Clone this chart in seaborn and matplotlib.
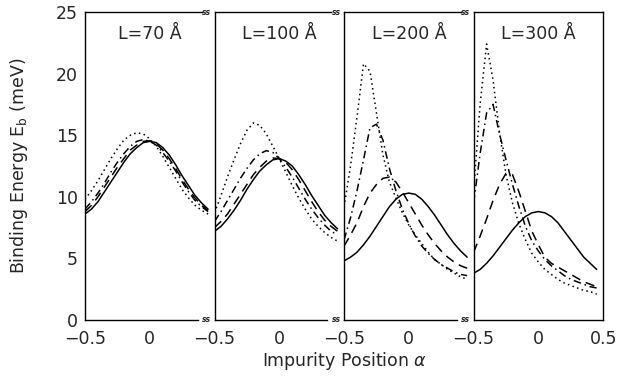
import numpy as np
import pandas as pd
import matplotlib
matplotlib.use('Agg')
import matplotlib.pyplot as plt
import seaborn as sns

# =========================
# DATA
# =========================
ALPHA = [-0.5, -0.45, -0.4, -0.35, -0.3, -0.25, -0.2, -0.15, -0.1, -0.05,
         0.0, 0.05, 0.1, 0.15, 0.2, 0.25, 0.3, 0.35, 0.4, 0.45]

PANELS = ['L=70 Å', 'L=100 Å', 'L=200 Å', 'L=300 Å']
CURVES = ['solid', 'dashed', 'dashdot', 'dotted']

# L = 70 A
l70_solid   = [8.6, 9.0, 9.6, 10.4, 11.2, 12.0, 12.8, 13.5, 14.0, 14.4, 14.5, 14.4, 14.0, 13.4, 12.6, 11.7, 10.9, 10.1, 9.5, 9.0]
l70_dashed  = [8.8, 9.3, 10.0, 10.8, 11.6, 12.4, 13.1, 13.8, 14.2, 14.5, 14.55, 14.3, 13.8, 13.1, 12.3, 11.4, 10.6, 9.9, 9.3, 8.9]
l70_dashdot = [9.0, 9.6, 10.3, 11.1, 12.0, 12.8, 13.5, 14.1, 14.5, 14.65, 14.5, 14.2, 13.6, 12.9, 12.1, 11.2, 10.4, 9.7, 9.2, 8.8]
l70_dotted  = [9.8, 10.5, 11.3, 12.2, 13.1, 13.9, 14.6, 15.0, 15.2, 15.1, 14.7, 14.1, 13.3, 12.4, 11.5, 10.6, 9.9, 9.3, 8.9, 8.6]

# L = 100 A
l100_solid   = [7.2, 7.6, 8.2, 8.9, 9.7, 10.6, 11.4, 12.1, 12.6, 13.0, 13.1, 12.9, 12.5, 11.8, 11.0, 10.1, 9.3, 8.5, 7.9, 7.4]
l100_dashed  = [7.5, 8.0, 8.6, 9.4, 10.2, 11.0, 11.8, 12.4, 12.9, 13.15, 13.1, 12.8, 12.2, 11.4, 10.5, 9.6, 8.8, 8.1, 7.6, 7.2]
l100_dashdot = [8.0, 8.8, 9.7, 10.6, 11.5, 12.3, 13.0, 13.5, 13.75, 13.6, 13.1, 12.4, 11.6, 10.7, 9.8, 9.0, 8.3, 7.7, 7.2, 6.9]
l100_dotted  = [8.7, 10.1, 11.6, 13.0, 14.3, 15.4, 16.0, 15.8, 15.1, 14.1, 13.1, 12.0, 10.9, 9.9, 9.0, 8.2, 7.6, 7.1, 6.7, 6.4]

# L = 200 A
l200_solid   = [4.8, 5.1, 5.5, 6.1, 6.8, 7.6, 8.4, 9.2, 9.8, 10.2, 10.3, 10.2, 9.8, 9.2, 8.5, 7.7, 6.9, 6.2, 5.6, 5.1]
l200_dashed  = [6.0, 6.9, 7.9, 9.2, 10.3, 11.0, 11.5, 11.6, 11.2, 10.4, 9.5, 8.6, 7.7, 6.9, 6.2, 5.6, 5.1, 4.7, 4.4, 4.2]
l200_dashdot = [6.5, 8.3, 10.5, 13.0, 15.6, 15.9, 14.6, 12.3, 10.5, 9.0, 7.8, 6.8, 6.0, 5.4, 4.9, 4.5, 4.2, 3.9, 3.7, 3.6]
l200_dotted  = [9.2, 12.5, 16.5, 20.8, 20.2, 16.8, 13.4, 11.2, 9.9, 8.7, 7.7, 6.9, 6.2, 5.5, 4.9, 4.5, 4.1, 3.8, 3.5, 3.3]

# L = 300 A
l300_solid   = [3.8, 4.1, 4.6, 5.2, 5.9, 6.6, 7.3, 7.9, 8.4, 8.7, 8.8, 8.7, 8.4, 7.9, 7.2, 6.5, 5.8, 5.1, 4.6, 4.1]
l300_dashed  = [5.5, 6.8, 8.2, 9.7, 11.0, 11.9, 11.8, 10.4, 8.8, 7.2, 6.1, 5.1, 4.6, 4.3, 4.0, 3.7, 3.4, 3.1, 2.9, 2.7]
l300_dashdot = [9.5, 13.5, 16.8, 17.5, 15.1, 13.0, 11.0, 9.2, 7.6, 6.4, 5.6, 4.9, 4.4, 4.0, 3.6, 3.3, 3.1, 2.9, 2.7, 2.6]
l300_dotted  = [10.5, 17.5, 22.4, 19.5, 15.2, 11.8, 9.5, 7.8, 6.5, 5.4, 4.7, 4.1, 3.7, 3.3, 3.0, 2.8, 2.6, 2.4, 2.3, 2.1]

SERIES = {
    'L=70 Å':  [l70_solid, l70_dashed, l70_dashdot, l70_dotted],
    'L=100 Å': [l100_solid, l100_dashed, l100_dashdot, l100_dotted],
    'L=200 Å': [l200_solid, l200_dashed, l200_dashdot, l200_dotted],
    'L=300 Å': [l300_solid, l300_dashed, l300_dashdot, l300_dotted],
}

# long-form table for seaborn
rows = []
for panel in PANELS:
    for curve, vals in zip(CURVES, SERIES[panel]):
        for a, e in zip(ALPHA, vals):
            rows.append({'panel': panel, 'curve': curve, 'alpha': a, 'Eb': e})
df = pd.DataFrame(rows)

DASHES = {'solid': '', 'dashed': (6, 4), 'dashdot': (5, 2.5, 1, 2.5), 'dotted': (1, 2.2)}

# =========================
# PLOT
# =========================
sns.set_style('white')
plt.rcParams['font.family'] = ['DejaVu Sans']
plt.rcParams['axes.edgecolor'] = 'black'
plt.rcParams['axes.linewidth'] = 1.0

fig, axes = plt.subplots(1, 4, figsize=(6.18, 3.76), dpi=100, sharey=True)
fig.subplots_adjust(left=0.1375, right=0.976, top=0.968, bottom=0.149, wspace=0)

for i, (ax, panel) in enumerate(zip(axes, PANELS)):
    sub = df[df['panel'] == panel]
    sns.lineplot(data=sub, x='alpha', y='Eb', style='curve', style_order=CURVES,
                 dashes=DASHES, color='black', linewidth=1.1, legend=False,
                 ax=ax, estimator=None, sort=False)
    ax.set_xlim(-0.5, 0.5)
    ax.set_ylim(0, 25)
    ax.set_xlabel('')
    ax.set_ylabel('')
    ax.text(0.5, 0.93, panel, transform=ax.transAxes, ha='center', va='center', fontsize=12.5)

    if i < 3:
        ax.set_xticks([-0.5, 0])
        ax.set_xticklabels(['\u22120.5', '0'])
        ax.spines['right'].set_visible(False)
        ax.spines['top'].set_bounds(-0.5, 0.40)
        ax.spines['bottom'].set_bounds(-0.5, 0.37)
        for yy in (1.0, 0.0):
            ax.text(0.44, yy, 'ss', transform=ax.get_xaxis_transform(), ha='center',
                    va='center', fontsize=5.5, fontstyle='italic', fontweight='bold', clip_on=False)
    else:
        ax.set_xticks([-0.5, 0, 0.5])
        ax.set_xticklabels(['\u22120.5', '0', '0.5'])

    ax.tick_params(axis='x', direction='in', length=4, width=0.8, labelsize=12.5, pad=7)
    if i == 0:
        ax.set_yticks([0, 5, 10, 15, 20, 25])
        ax.tick_params(axis='y', direction='in', length=4, width=0.8, labelsize=12.5, pad=5)
    else:
        ax.tick_params(axis='y', left=False, labelleft=False)

fig.text(0.557, 0.04, 'Impurity Position $\\alpha$', ha='center', va='center', fontsize=12.5)
fig.text(0.03, 0.56, 'Binding Energy E$_\\mathrm{b}$ (meV)', ha='center', va='center',
         rotation=90, fontsize=12.5)

plt.savefig('out.png', dpi=100)
